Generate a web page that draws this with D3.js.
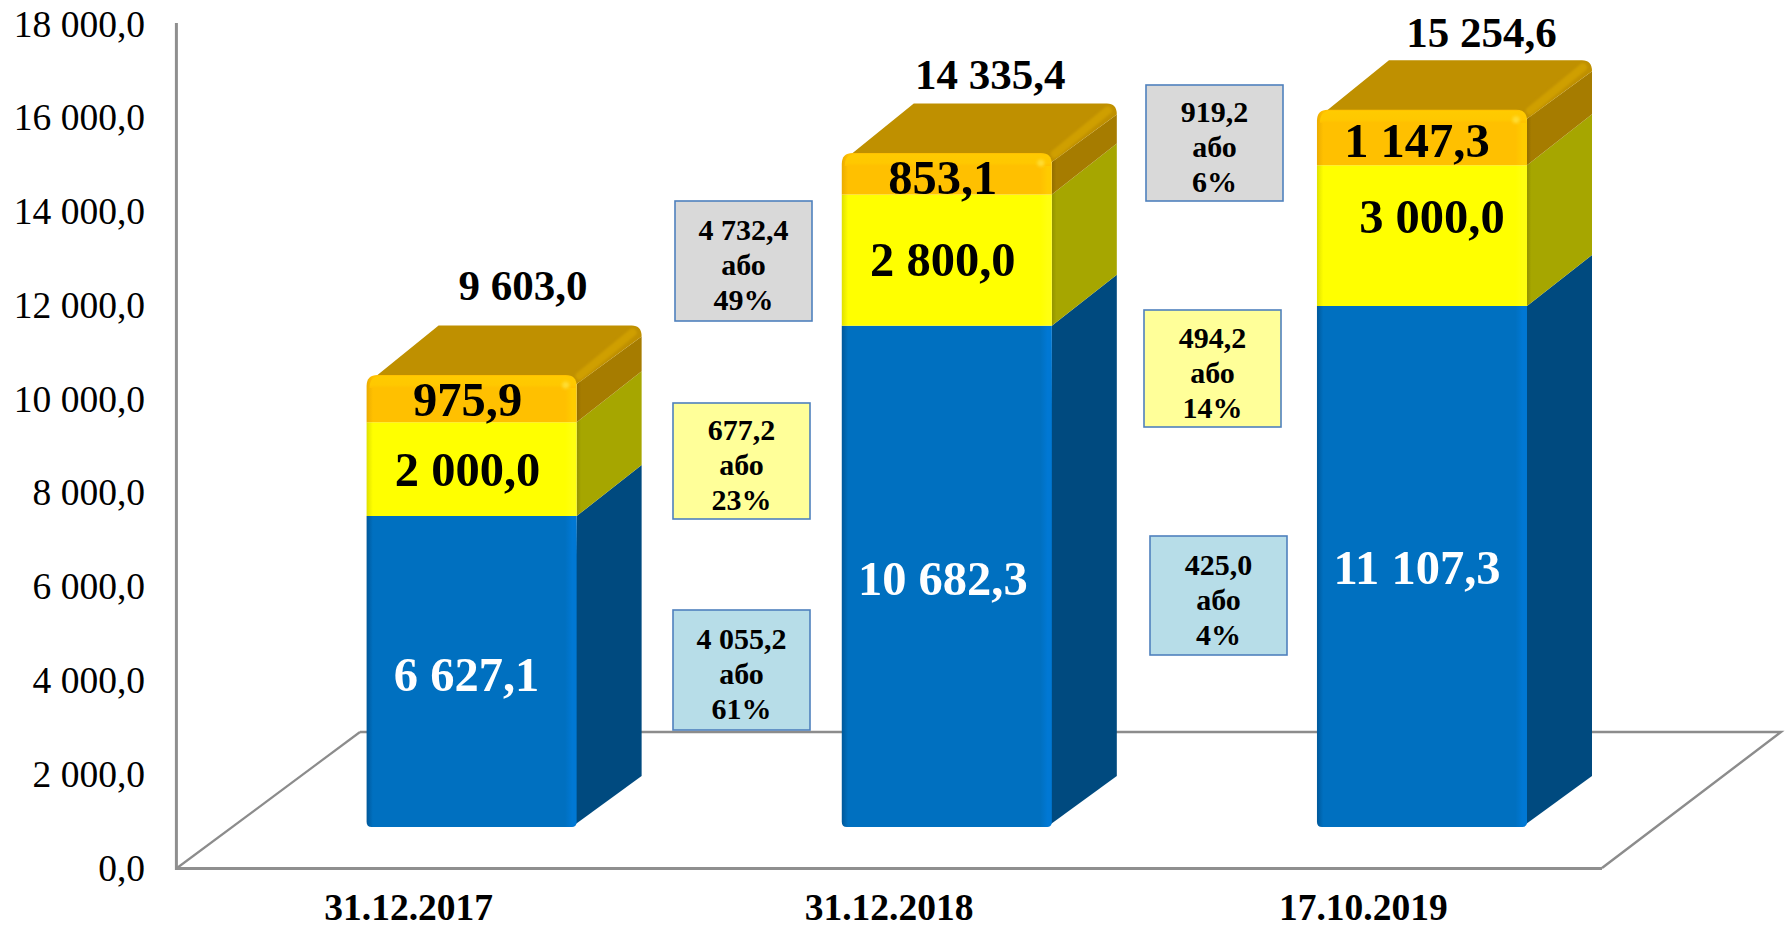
<!DOCTYPE html>
<html><head><meta charset="utf-8">
<script src="https://cdn.jsdelivr.net/npm/d3@7/dist/d3.min.js"></script>
<style>html,body{margin:0;padding:0;background:#fff;overflow:hidden}svg{display:block;font-family:"Liberation Serif","Times New Roman",serif}</style>
</head><body><svg id="c" width="1785" height="928"></svg>
<script>
// ---- data ----
const categories = ["31.12.2017","31.12.2018","17.10.2019"];
const blueValues = [6627.1,10682.3,11107.3];
const yellowValues = [2000.0,2800.0,3000.0];
const orangeValues = [975.9,853.1,1147.3];
const totals = [9603.0,14335.4,15254.6];
const tickValues = [0,2000,4000,6000,8000,10000,12000,14000,16000,18000];
const deltaAmounts = [["4 055,2","677,2","4 732,4"],["425,0","494,2","919,2"]];
const deltaPercents = [["61%","23%","49%"],["4%","14%","6%"]];
const seriesKeys = ["blue","yellow","orange"];

const fmt = v => { const [a,b] = v.toFixed(1).split("."); return a.replace(/\B(?=(\d{3})+$)/g," ")+","+b; };

// ---- layout ----
const svg = d3.select("#c");
const defs = svg.append("defs");
const depth = {dx:65, dy:51};
const barBase = 827;
const y = d3.scaleLinear().domain([0,18000]).range([868,23.5]);     // bar heights
const yTicks = d3.scaleLinear().domain([0,18000]).range([868,24]);  // axis
const barX = d3.scaleBand().domain(categories).range([366.6,1527]).paddingInner(.558).paddingOuter(0);
const floorX = d3.scaleBand().domain(categories).range([176,1602]);
const hOf = v => y(0)-y(v);
const colors = {
  blue:{front:"#0070C0",edge:"#0078D4",dark:"#00589A",side:"#004A7F"},
  yellow:{front:"#FFFF00",edge:"#FFFF10",dark:"#E0E000",side:"#A6A600"},
  orange:{front:"#FFC000",edge:"#FFCB00",dark:"#EBAC00",side:"#A67C00"}
};
seriesKeys.forEach(k=>{
  const c=colors[k];
  const g=defs.append("linearGradient").attr("id","f-"+k);
  [[0,c.dark],[.03,c.front],[.945,c.front],[.98,c.edge],[1,c.edge]].forEach(s=>g.append("stop").attr("offset",s[0]).attr("stop-color",s[1]));
  const h=defs.append("linearGradient").attr("id","s-"+k);
  [[0,d3.color(c.side).darker(.35)],[.07,c.side],[1,c.side]].forEach(s=>h.append("stop").attr("offset",s[0]).attr("stop-color",s[1]));
});
const hl=defs.append("linearGradient").attr("id","hl").attr("x1",0).attr("x2",0).attr("y1",0).attr("y2",1);
[[0,"#FFCB00"],[.75,"#FFC800"],[1,"#FFC000"]].forEach(s=>hl.append("stop").attr("offset",s[0]).attr("stop-color",s[1]));
defs.append("filter").attr("id","soft").attr("x","-20%").attr("y","-20%").attr("width","140%").attr("height","140%")
  .append("feGaussianBlur").attr("stdDeviation",1.3);
defs.append("filter").attr("id","soft2").attr("x","-100%").attr("y","-100%").attr("width","300%").attr("height","300%")
  .append("feGaussianBlur").attr("stdDeviation",1.5);

// ---- floor and walls ----
const axisCol="#8C8C8C";
svg.append("path").attr("d",d3.line()([[360,732],[1781,732],[1602,868]])).attr("fill","none").attr("stroke",axisCol).attr("stroke-width",2.4);
svg.append("path").attr("d",d3.line()([[177,868],[360,732]])).attr("fill","none").attr("stroke",axisCol).attr("stroke-width",2.2);
svg.append("path").attr("d",d3.line()([[176.4,23],[176.4,868.6],[1602,868.6]])).attr("fill","none").attr("stroke","#8F8F8F").attr("stroke-width",3);

// ---- axis ----
const axis=d3.axisLeft(yTicks).tickValues(tickValues).tickSize(0).tickPadding(0).tickFormat(fmt);
const ag=svg.append("g").attr("transform","translate(145,0)").call(axis);
ag.select(".domain").remove();
ag.selectAll("text").attr("font-size",37.5).attr("font-family","Liberation Serif").attr("fill","#000");

// ---- bars ----
const rows=categories.map((c,i)=>({cat:c,blue:blueValues[i],yellow:yellowValues[i],orange:orangeValues[i]}));
const stacked=d3.stack().keys(seriesKeys)(rows);
const bw=barX.bandwidth();
const gBars=svg.append("g");
stacked.forEach(s=>{
  const k=s.key;
  const g=gBars.append("g");
  s.forEach(d=>{
    const x=barX(d.data.cat), y0=barBase-hOf(d[0]), y1raw=barBase-hOf(d[1]);
    const isTop=k==="orange", isBot=k==="blue";
    const y1=isTop?y1raw-1.5:y1raw;
    const {dx,dy}=depth, L=x, R=x+bw;
    // side face
    const sidePts=isTop
      ? [[R,y0],[R+dx,y0-dy],[R+dx,y1raw-dy+11],[R,y1+9]]
      : [[R-(isBot?5:0),y0],[R+dx,y0-dy],[R+dx,y1raw-dy],[R,y1raw]];
    g.append("path").attr("fill",`url(#s-${k})`).attr("d",d3.line()(sidePts)+"Z");
    // top face, drawn under the rounded corners of the front
    if(isTop){
      g.append("path").attr("fill","#BF9000").attr("d",
        `M${L+1},${y1+8}L${L+dx+7},${y1raw-dy}`+
        `L${R+dx-10},${y1raw-dy}Q${R+dx},${y1raw-dy} ${R+dx},${y1raw-dy+11}L${R},${y1+9}L${R-5},${y1+8}Z`);
    }
    // front face
    const r=isTop?11:0, rb=isBot?5:0;
    g.append("path").attr("fill",`url(#f-${k})`).attr("d",
      `M${L},${y0-rb}`+(rb?`Q${L},${y0} ${L+rb},${y0}L${R-rb},${y0}Q${R},${y0} ${R},${y0-rb}`:`L${R},${y0}`)+
      `L${R},${y1+r}`+(r?`Q${R},${y1} ${R-r},${y1}L${L+r},${y1}Q${L},${y1} ${L},${y1+r}`:`L${L},${y1}`)+"Z");
    if(isTop){
      // soft highlight under the top edge of the front
      g.append("path").attr("fill","url(#hl)").attr("d",`M${L+3},${y1+13}Q${L+3},${y1+1} ${L+14},${y1+1}L${R-13},${y1+1}Q${R-1},${y1+1} ${R-1},${y1+13}Z`);
      g.append("circle").attr("cx",R-11).attr("cy",y1+10).attr("r",3.5).attr("fill","#FFDD33").attr("filter","url(#soft2)");
      // bevel along the right edge of the top face
      g.append("path").attr("fill","none").attr("stroke","#CF9F00").attr("stroke-width",8).attr("stroke-linecap","round")
        .attr("filter","url(#soft)").attr("d",`M${R+3},${y1+1}L${R+dx-9},${y1raw-dy+7}`);
    }
  });
});

// ---- value labels ----
const segOffsets={blue:[[-5,3],[-4,2],[-5,1]],yellow:[[-4,0],[-4,-1],[10,-19]],orange:[[-4,0],[-4,3],[-5,2]]};
stacked.forEach(s=>{
  s.forEach((d,i)=>{
    const cx=barX(d.data.cat)+bw/2+segOffsets[s.key][i][0];
    const cy=barBase-(hOf(d[0])+hOf(d[1]))/2+segOffsets[s.key][i][1];
    svg.append("text").attr("x",cx).attr("y",cy).attr("dy",".34em").attr("text-anchor","middle")
      .attr("font-size",48.5).attr("font-weight",700).attr("font-family","Liberation Serif")
      .attr("fill",s.key==="blue"?"#fff":"#000").text(fmt(d[1]-d[0]));
  });
});
const totalOff=[[19,-40],[11,-29],[27,-28]];
totals.forEach((t,i)=>{
  const cx=barX(categories[i])+(bw+depth.dx)/2+totalOff[i][0];
  const cy=barBase-hOf(t)-depth.dy+totalOff[i][1];
  svg.append("text").attr("x",cx).attr("y",cy).attr("dy",".34em").attr("text-anchor","middle")
    .attr("font-size",43).attr("font-weight",700).attr("font-family","Liberation Serif").text(fmt(t));
});

// ---- category labels ----
const catShift=[-5,0,-1];
categories.forEach((c,i)=>{
  svg.append("text").attr("x",floorX(c)+floorX.bandwidth()/2+catShift[i]).attr("y",919.5).attr("text-anchor","middle")
    .attr("font-size",37.5).attr("font-weight",700).attr("font-family","Liberation Serif").text(c);
});

// ---- delta boxes ----
const boxFills=["#B7DDE8","#FFFF99","#D9D9D9"];
const boxLayout=[
  [[673,610,120,137],[673,403,116,137],[675,201,120,137]],
  [[1150,536,119,137],[1144,310,117,137],[1146,85,116,137]]
];
boxLayout.forEach((col,j)=>col.forEach((b,i)=>{
  const [x,yy,h,w]=b;
  const g=svg.append("g");
  g.append("rect").attr("x",x).attr("y",yy).attr("width",w).attr("height",h)
    .attr("fill",boxFills[i]).attr("stroke","#4F81BD").attr("stroke-width",1.6);
  [deltaAmounts[j][i],"або",deltaPercents[j][i]].forEach((t,l)=>{
    g.append("text").attr("x",x+w/2).attr("y",yy+h/2+4+(l-1)*35).attr("dy",".34em").attr("text-anchor","middle")
      .attr("font-size",30).attr("font-weight",700).attr("font-family","Liberation Serif").text(t);
  });
}));
</script></body></html>
